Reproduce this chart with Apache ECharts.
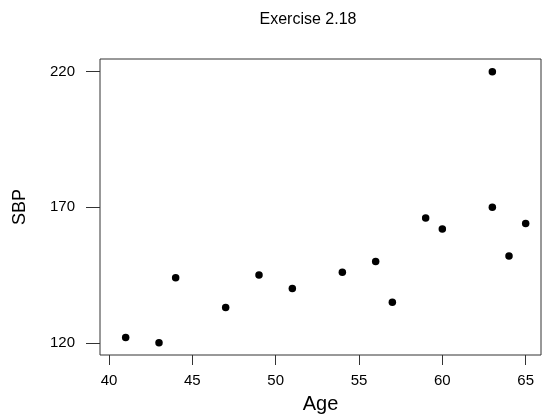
<!DOCTYPE html>
<html>
<head>
<meta charset="utf-8">
<script src="https://cdn.jsdelivr.net/npm/echarts@6/dist/echarts.min.js"></script>
<style>
  html, body { margin: 0; padding: 0; background: #fff; }
  #chart { width: 542px; height: 419px; }
</style>
</head>
<body>
<div id="chart"></div>
<script>
// Age vs SBP
const ages = [41, 43, 44, 47, 49, 51, 54, 56, 57, 59, 60, 63, 63, 64, 65]
const sbp = [122, 120, 144, 133, 145, 140, 146, 150, 135, 166, 162, 170, 220, 152, 164]
const xTicks = [40, 45, 50, 55, 60, 65]
const yTicks = [120, 170, 220]

const font = 'Liberation Sans, Arial, sans-serif'
const lineColor = '#333'

const chart = echarts.init(document.getElementById('chart'))
chart.setOption({
  animation: false,
  title: {
    text: 'Exercise 2.18',
    left: 303,
    textAlign: 'center',
    top: 7,
    textStyle: { fontFamily: font, fontSize: 16, fontWeight: 'normal', color: '#000' }
  },
  grid: {
    left: 100, right: 1, top: 59, bottom: 60,
    show: true, borderColor: lineColor, borderWidth: 1
  },
  xAxis: {
    type: 'value',
    min: 39.46,
    max: 65.92,
    name: 'Age',
    nameLocation: 'middle',
    nameGap: 39,
    nameTextStyle: { fontFamily: font, fontSize: 20, color: '#000' },
    axisLine: { show: false },
    axisTick: { show: true, length: 10, customValues: xTicks, lineStyle: { color: lineColor } },
    axisLabel: { customValues: xTicks, margin: 18, fontFamily: font, fontSize: 15, color: '#000' },
    splitLine: { show: false }
  },
  yAxis: {
    type: 'value',
    min: 115.5,
    max: 224.7,
    name: 'SBP',
    nameLocation: 'middle',
    nameGap: 71,
    nameTextStyle: { fontFamily: font, fontSize: 18, color: '#000' },
    axisLine: { show: false },
    axisTick: { show: true, length: 14, customValues: yTicks, lineStyle: { color: lineColor } },
    axisLabel: { customValues: yTicks, margin: 25, fontFamily: font, fontSize: 15, color: '#000' },
    splitLine: { show: false }
  },
  series: [{
    type: 'scatter',
    data: ages.map((a, i) => [a, sbp[i]]),
    symbolSize: 7.5,
    itemStyle: { color: '#000', opacity: 1 }
  }]
})
</script>
</body>
</html>
